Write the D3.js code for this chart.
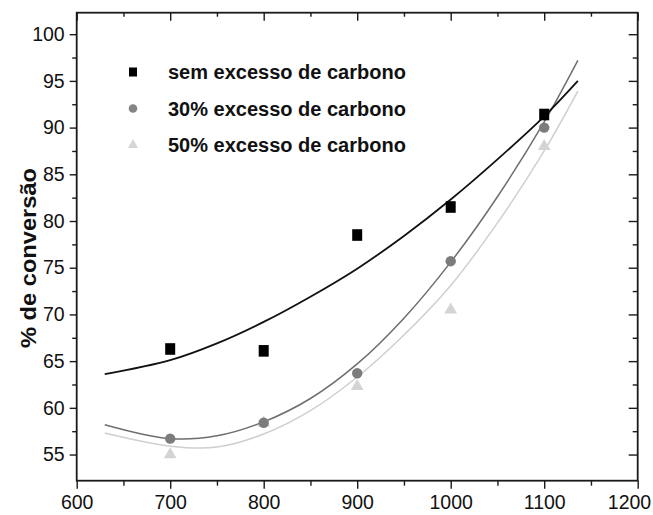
<!DOCTYPE html>
<html>
<head>
<meta charset="utf-8">
<script src="https://cdn.jsdelivr.net/npm/d3@7"></script>
<style>
  body { margin: 0; background: #fff; }
  svg { display: block; font-family: 'Liberation Sans', Arial, sans-serif; }
</style>
</head>
<body>
<svg id="chart" width="653" height="515"></svg>
<script>
// measured points
const temperatures = [700, 800, 900, 1000, 1100]
const semExcesso = [66.3, 66.1, 78.5, 81.5, 91.4]
const excesso30 = [56.7, 58.4, 63.7, 75.7, 90.0]
const excesso50 = [55.0, 58.4, 62.3, 70.5, 88.0]

// fitted curves, values
const fitX = [630, 700, 750, 800, 850, 900, 950, 1000, 1050, 1100, 1136]
const fitSem = [63.6, 65.1, 66.9, 69.2, 71.9, 74.9, 78.4, 82.3, 86.6, 91.2, 95.0]
const fit30 = [58.2, 56.7, 57.0, 58.5, 61.0, 64.7, 69.6, 75.6, 82.6, 90.6, 97.2]
const fit50 = [57.3, 55.9, 55.8, 57.2, 59.7, 63.3, 67.8, 73.1, 79.8, 87.5, 93.9]

const xTicks = [600, 700, 800, 900, 1000, 1100, 1200]
const xMinor = [650, 750, 850, 950, 1050, 1150]
const yTicks = [55, 60, 65, 70, 75, 80, 85, 90, 95, 100]
const yMinor = [57.5, 62.5, 67.5, 72.5, 77.5, 82.5, 87.5, 92.5, 97.5]
const legendLabels = ['sem excesso de carbono', '30% excesso de carbono', '50% excesso de carbono']

const svg = d3.select('#chart')
const plot = {left: 76.7, right: 637.7, top: 12.7, bottom: 480.7}

const x = d3.scaleLinear().domain([600, 1200]).range([plot.left, plot.right])
const y = d3.scaleLinear().domain([52.2, 102.3]).range([plot.bottom, plot.top])

const axisColor = '#1a1a1a'

// frame ticks: outward on left/bottom, inward on top/right
const gx = svg.append('g').attr('transform', `translate(0,${plot.bottom})`)
  .call(d3.axisBottom(x).tickValues(xTicks).tickSize(8).tickPadding(6).tickFormat(d3.format('d')))
gx.append('g').call(d3.axisBottom(x).tickValues(xMinor).tickSize(5).tickFormat(''))
// last label sits against the page edge
gx.selectAll('.tick text').filter(d => d === 1200).attr('text-anchor', 'end').attr('dx', 13)

const gy = svg.append('g').attr('transform', `translate(${plot.left},0)`)
  .call(d3.axisLeft(y).tickValues(yTicks).tickSize(7).tickPadding(5).tickFormat(d3.format('d')))
gy.append('g').call(d3.axisLeft(y).tickValues(yMinor).tickSize(4.5).tickFormat(''))

const gt = svg.append('g').attr('transform', `translate(0,${plot.top})`)
gt.call(d3.axisBottom(x).tickValues(xTicks).tickSize(8).tickFormat(''))
gt.append('g').call(d3.axisBottom(x).tickValues(xMinor).tickSize(4).tickFormat(''))

const gr = svg.append('g').attr('transform', `translate(${plot.right},0)`)
gr.call(d3.axisLeft(y).tickValues(yTicks).tickSize(9).tickFormat(''))
gr.append('g').call(d3.axisLeft(y).tickValues(yMinor).tickSize(5).tickFormat(''))

svg.selectAll('.domain').remove()
svg.selectAll('.tick line').attr('stroke', axisColor).attr('stroke-width', 1.4)
svg.selectAll('.tick text').attr('fill', '#111').attr('font-size', 19.5)

svg.append('rect')
  .attr('x', plot.left).attr('y', plot.top)
  .attr('width', plot.right - plot.left).attr('height', plot.bottom - plot.top)
  .attr('fill', 'none').attr('stroke', axisColor).attr('stroke-width', 1.8)

svg.append('text')
  .attr('transform', 'translate(36,258) rotate(-90)')
  .attr('text-anchor', 'middle')
  .attr('font-size', 21.5).attr('font-weight', 'bold').attr('fill', '#111')
  .attr('textLength', 180).attr('lengthAdjust', 'spacingAndGlyphs')
  .text('% de conversão')

// fit curves
const fitLine = d3.line().x(d => x(d[0])).y(d => y(d[1])).curve(d3.curveCatmullRom)
const fits = [
  {vals: fit50, color: '#cfcfcf', width: 1.5},
  {vals: fit30, color: '#6e6e6e', width: 1.5},
  {vals: fitSem, color: '#111', width: 1.8}
]
fits.forEach(f => {
  svg.append('path')
    .datum(fitX.map((v, i) => [v, f.vals[i]]))
    .attr('d', fitLine)
    .attr('fill', 'none').attr('stroke', f.color).attr('stroke-width', f.width)
})

// markers
const tri = d3.symbol().type(d3.symbolTriangle)
svg.append('g').selectAll('path').data(temperatures)
  .join('path')
  .attr('transform', (d, i) => `translate(${x(d)},${y(excesso50[i])})`)
  .attr('d', tri.size(70))
  .attr('fill', '#d4d4d4')

svg.append('g').selectAll('circle').data(temperatures)
  .join('circle')
  .attr('cx', d => x(d)).attr('cy', (d, i) => y(excesso30[i]))
  .attr('r', 5.2)
  .attr('fill', '#7c7c7c')

svg.append('g').selectAll('rect').data(temperatures)
  .join('rect')
  .attr('x', d => x(d) - 5).attr('y', (d, i) => y(semExcesso[i]) - 5.8)
  .attr('width', 10).attr('height', 11.6)
  .attr('fill', '#000')

// legend
const legend = svg.append('g')
const rowY = [72, 108.5, 145]
legend.append('rect').attr('x', 129).attr('y', rowY[0] - 4.5).attr('width', 8).attr('height', 9).attr('fill', '#000')
legend.append('circle').attr('cx', 133).attr('cy', rowY[1]).attr('r', 4.3).attr('fill', '#858585')
legend.append('path').attr('transform', `translate(133,${rowY[2]})`).attr('d', tri.size(45)).attr('fill', '#d6d6d6')
legend.selectAll('text').data(legendLabels)
  .join('text')
  .attr('x', 168).attr('y', (d, i) => rowY[i] + 7)
  .attr('font-size', 20).attr('font-weight', 'bold').attr('fill', '#111')
  .text(d => d)
</script>
</body>
</html>
